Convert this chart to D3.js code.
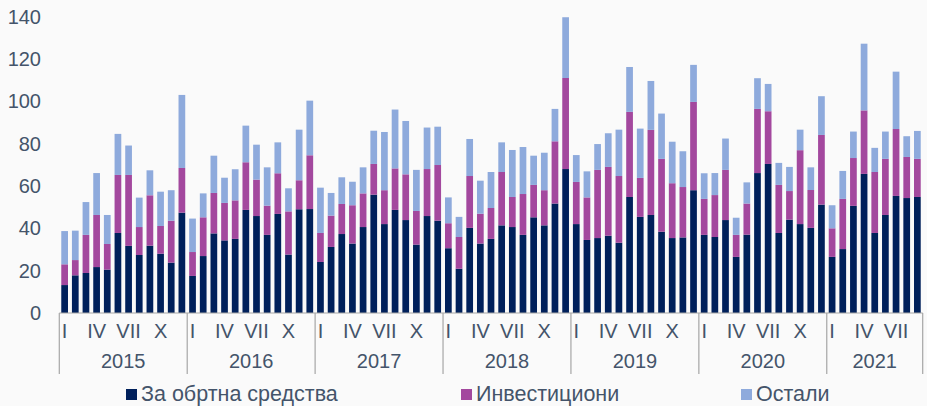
<!DOCTYPE html>
<html>
<head>
<meta charset="utf-8">
<script src="https://cdn.jsdelivr.net/npm/d3@7"></script>
<style>
  body { margin: 0; background: #fafafa; }
  svg { display: block; }
  text { font-family: Arial, "Liberation Sans", sans-serif; fill: #44546a; }
</style>
</head>
<body>
<div id="chart"></div>
<script>
// years and month labels
const years = ['2015', '2016', '2017', '2018', '2019', '2020', '2021'];
const monthsPerYear = [12, 12, 12, 12, 12, 12, 9];
const monthNames = ['I', 'II', 'III', 'IV', 'V', 'VI', 'VII', 'VIII', 'IX', 'X', 'XI', 'XII'];
const shownMonths = ['I', 'IV', 'VII', 'X'];
const yTicks = [0, 20, 40, 60, 80, 100, 120, 140];

const seriesNames = ['За обртна средства', 'Инвестициони', 'Остали'];

// За обртна средства
const working = [
  13.2, 17.8, 18.9, 21.7, 20.5, 37.8, 31.7, 27.4, 31.8, 28.0, 23.8, 47.4,
  17.5, 26.9, 37.6, 34.3, 35.0, 48.7, 45.8, 36.9, 46.8, 27.6, 49.0, 49.1,
  24.1, 31.2, 37.3, 32.8, 40.6, 55.9, 42.0, 48.7, 43.9, 32.3, 45.8, 43.6,
  30.6, 20.9, 40.2, 32.8, 35.0, 41.4, 40.6, 36.9, 45.2, 41.4, 51.7, 68.0,
  42.0, 34.5, 35.4, 36.5, 33.2, 54.8, 45.4, 46.3, 38.4, 35.4, 35.7, 58.0,
  36.9, 35.9, 43.9, 26.5, 37.0, 66.1, 70.4, 37.8, 44.1, 42.0, 40.2, 51.2,
  26.5, 30.2, 50.6, 65.7, 37.8, 46.3, 55.3, 54.3, 54.8
];

// Инвестициони
const investment = [
  9.8, 7.2, 18.0, 24.6, 12.1, 27.4, 33.5, 13.2, 23.8, 13.1, 19.8, 21.1,
  11.3, 18.3, 19.1, 17.7, 18.2, 22.5, 17.2, 13.8, 19.2, 20.4, 13.7, 25.4,
  13.7, 14.8, 14.2, 18.1, 15.9, 14.5, 16.0, 19.6, 21.6, 15.9, 22.2, 26.3,
  11.8, 15.0, 24.5, 14.1, 14.6, 25.2, 14.2, 19.3, 15.3, 16.6, 29.4, 43.0,
  19.9, 20.1, 32.2, 32.5, 31.5, 40.2, 18.4, 40.2, 34.4, 25.9, 23.8, 41.7,
  17.0, 19.8, 23.7, 10.4, 14.7, 30.3, 24.9, 22.7, 13.5, 34.9, 17.9, 32.9,
  13.5, 23.7, 22.6, 30.0, 28.8, 26.5, 31.6, 19.4, 18.0
];

// Остали
const other = [
  15.7, 13.9, 15.5, 19.8, 13.7, 19.4, 13.9, 13.9, 11.8, 16.2, 14.4, 34.5,
  15.8, 11.3, 17.6, 11.9, 14.7, 17.3, 16.5, 18.1, 14.6, 10.9, 23.9, 25.8,
  21.4, 10.7, 12.6, 11.1, 12.3, 15.7, 27.5, 27.8, 25.2, 19.4, 19.6, 18.1,
  12.2, 9.5, 17.5, 15.6, 17.0, 14.0, 22.2, 22.2, 13.8, 17.7, 15.3, 28.7,
  12.7, 12.3, 12.2, 15.9, 21.9, 21.2, 23.3, 23.1, 21.4, 19.6, 16.9, 17.5,
  12.1, 10.4, 14.8, 8.1, 10.0, 14.5, 12.9, 10.4, 11.4, 9.7, 10.7, 18.3,
  10.9, 13.2, 12.5, 31.5, 11.4, 12.9, 27.1, 9.8, 13.2
];

const colors = ['#00205b', '#a3489e', '#8eaadc'];

const width = 927, height = 406;
let margin = { top: 16.6, right: 4.3, bottom: 93, left: 59.3 };

// one row per month
let rows = [];
years.forEach(function(yr, yi) {
  for (let m = 0; m < monthsPerYear[yi]; m++) {
    let i = rows.length;
    rows.push({
      key: yr + '-' + (m + 1),
      year: yr,
      month: monthNames[m],
      working: working[i],
      investment: investment[i],
      other: other[i]
    });
  }
});

let stack = d3.stack().keys(['working', 'investment', 'other']);
let layers = stack(rows);

let x = d3.scaleBand()
  .domain(rows.map(d => d.key))
  .range([margin.left, width - margin.right])
  .paddingInner(0.37)
  .paddingOuter(0.185);

let y = d3.scaleLinear()
  .domain([0, 140])
  .range([height - margin.bottom, margin.top]);

let svg = d3.select('#chart').append('svg')
  .attr('width', width)
  .attr('height', height);

svg.append('rect')
  .attr('width', width)
  .attr('height', height)
  .attr('fill', '#fafafa');

// y axis labels only
let yAxis = d3.axisLeft(y).tickValues(yTicks).tickSize(0).tickPadding(0);
let yg = svg.append('g')
  .attr('transform', 'translate(' + 41 + ',0)')
  .call(yAxis);
yg.select('.domain').remove();
yg.selectAll('text')
  .style('font-size', '20px')
  .attr('fill', '#44546a');

// bars
svg.append('g')
  .selectAll('g')
  .data(layers)
  .join('g')
  .attr('fill', (d, i) => colors[i])
  .selectAll('rect')
  .data(d => d)
  .join('rect')
  .attr('x', d => x(d.data.key))
  .attr('y', d => y(d[1]))
  .attr('width', x.bandwidth())
  .attr('height', d => y(d[0]) - y(d[1]));

// x axis line
let base = y(0);
svg.append('line')
  .attr('x1', margin.left)
  .attr('x2', width - margin.right)
  .attr('y1', base)
  .attr('y2', base)
  .attr('stroke', '#a6a6a6')
  .attr('stroke-width', 1.2);

let step = x.step();
let left = x.range()[0];

// year separators
let bounds = [0];
monthsPerYear.forEach(function(n) { bounds.push(bounds[bounds.length - 1] + n); });
svg.append('g')
  .selectAll('line')
  .data(bounds)
  .join('line')
  .attr('x1', d => left + d * step)
  .attr('x2', d => left + d * step)
  .attr('y1', base)
  .attr('y2', base + 61)
  .attr('stroke', '#a6a6a6')
  .attr('stroke-width', 1.2);

// month labels
svg.append('g')
  .selectAll('text')
  .data(rows.filter(d => shownMonths.indexOf(d.month) >= 0))
  .join('text')
  .attr('x', d => x(d.key) + x.bandwidth() / 2)
  .attr('y', base + 25)
  .attr('text-anchor', 'middle')
  .style('font-size', '20px')
  .text(d => d.month);

// year labels
svg.append('g')
  .selectAll('text')
  .data(years)
  .join('text')
  .attr('x', (d, i) => left + (bounds[i] + bounds[i + 1]) / 2 * step)
  .attr('y', base + 55)
  .attr('text-anchor', 'middle')
  .style('font-size', '20px')
  .text(d => d);

// legend (kept a few px higher than the source so descenders are not clipped)
let legendX = [126, 461, 741];
let legend = svg.append('g')
  .selectAll('g')
  .data(seriesNames)
  .join('g')
  .attr('transform', (d, i) => 'translate(' + legendX[i] + ',' + 389 + ')');

legend.append('rect')
  .attr('width', 11)
  .attr('height', 11)
  .attr('fill', (d, i) => colors[i]);

legend.append('text')
  .attr('x', 15)
  .attr('y', 12)
  .style('font-size', '21.5px')
  .text(d => d);
</script>
</body>
</html>
